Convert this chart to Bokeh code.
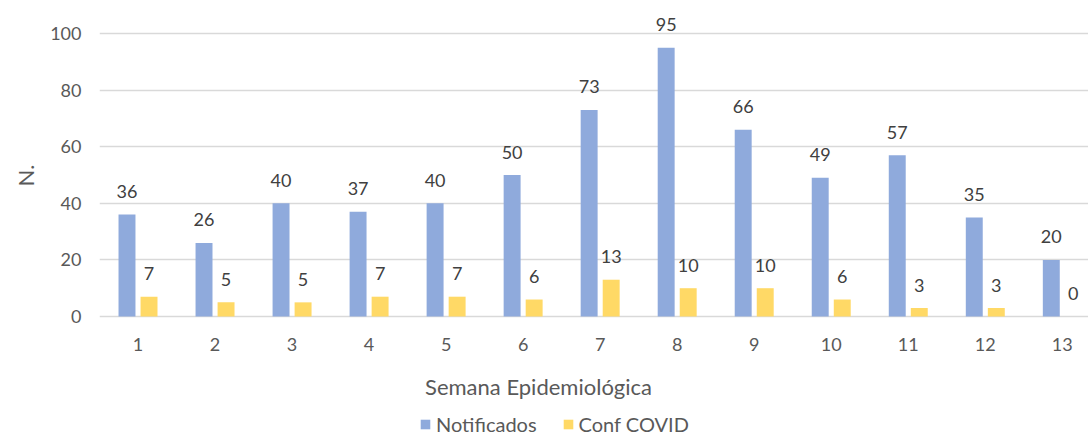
from bokeh.plotting import figure
from bokeh.models import ColumnDataSource, FixedTicker, Legend, LegendItem, Range1d, Label, Title
from bokeh.core.properties import value
from bokeh.transform import dodge
from bokeh.embed import file_html
from bokeh.resources import INLINE

weeks = list(range(1, 14))
notificados = [36, 26, 40, 37, 40, 50, 73, 95, 66, 49, 57, 35, 20]
conf_covid = [7, 5, 5, 7, 7, 6, 13, 10, 10, 6, 3, 3, 0]
y_ticks = [0, 20, 40, 60, 80, 100]

FONT = "Lato"
BLUE = "#8FAADC"
YELLOW = "#FFD966"
AXIS_TXT = "#595959"
LBL_TXT = "#404040"

src = ColumnDataSource(dict(
    week=weeks,
    notif=notificados,
    conf=conf_covid,
    notif_lbl=[str(v) for v in notificados],
    conf_lbl=[str(v) for v in conf_covid],
))

p = figure(width=1088, height=436, output_backend="svg", toolbar_location=None,
           x_range=Range1d(0.5, 13.34), y_range=Range1d(-42.4, 111.66),
           min_border_left=98, min_border_right=0, min_border_top=0, min_border_bottom=0)
p.outline_line_color = None
p.background_fill_color = "white"
p.border_fill_color = "white"

off = 0.143
bw = 0.22
r1 = p.vbar(x=dodge("week", -off), top="notif", width=bw, source=src,
            fill_color=BLUE, line_color=None)
r2 = p.vbar(x=dodge("week", off), top="conf", width=bw, source=src,
            fill_color=YELLOW, line_color=None)

p.text(x=dodge("week", -off), y="notif", text="notif_lbl", source=src,
       text_align="center", text_baseline="middle", y_offset=-23,
       text_font=value(FONT), text_font_size="18px", text_color=LBL_TXT)
p.text(x=dodge("week", off), y="conf", text="conf_lbl", source=src,
       text_align="center", text_baseline="middle", y_offset=-23,
       text_font=value(FONT), text_font_size="18px", text_color=LBL_TXT)

# axes
p.xaxis.ticker = FixedTicker(ticks=weeks)
p.yaxis.ticker = FixedTicker(ticks=y_ticks)
for ax in (p.xaxis[0], p.yaxis[0]):
    ax.axis_line_color = None
    ax.major_tick_line_color = None
    ax.minor_tick_line_color = None
    ax.major_label_text_font = FONT
    ax.major_label_text_font_size = "18px"
    ax.major_label_text_color = AXIS_TXT

p.xaxis.fixed_location = 0
p.xaxis.major_label_standoff = 15
p.yaxis.major_label_standoff = 12

p.xgrid.grid_line_color = None
p.ygrid.ticker = FixedTicker(ticks=y_ticks)
p.ygrid.grid_line_color = "#D9D9D9"
p.ygrid.grid_line_width = 1.5

# y-axis title, centred on the 0-100 grid span
p.add_layout(Title(text="N.", align="right", offset=164, standoff=18,
                   text_font=FONT, text_font_size="22px", text_font_style="normal",
                   text_color=AXIS_TXT), "left")

# x-axis title (placed like the reference, left of the frame centre)
p.add_layout(Label(x=439, y=50, x_units="screen", y_units="screen",
                   text="Semana Epidemiológica", text_align="center",
                   text_baseline="middle", text_font=FONT, text_font_size="22px",
                   text_color=AXIS_TXT))

legend = Legend(items=[LegendItem(label="Notificados", renderers=[r1]),
                       LegendItem(label="Conf COVID", renderers=[r2])],
                orientation="horizontal", location=(320, 0),
                label_text_font=FONT, label_text_font_size="20px",
                label_text_color=AXIS_TXT, glyph_width=12, glyph_height=12,
                label_standoff=5, spacing=25, padding=0, margin=0,
                border_line_color=None, background_fill_alpha=0)
p.add_layout(legend, "center")

open("out.html", "w").write(file_html(p, INLINE))
